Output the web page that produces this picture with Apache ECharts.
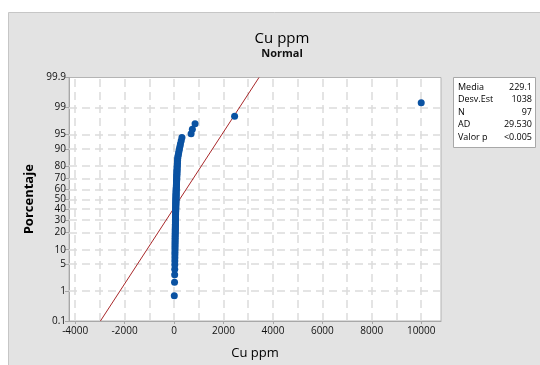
<!DOCTYPE html>
<html>
<head>
<meta charset="utf-8">
<script src="https://cdn.jsdelivr.net/npm/echarts@6/dist/echarts.min.js"></script>
<style>
  html, body { margin: 0; padding: 0; background: #fff; }
  #chart { width: 540px; height: 365px; }
</style>
</head>
<body>
<div id="chart"></div>
<script>
// Cu ppm values, sorted
var cuValues = [
  10, 20, 25, 28, 30, 32, 34, 35, 36, 38,
  39, 40, 41, 42, 43, 44, 45, 46, 47, 48,
  49, 50, 51, 52, 53, 54, 55, 56, 57, 58,
  59, 60, 61, 62, 63, 64, 65, 66, 67, 68,
  69, 70, 71, 72, 73, 74, 75, 76, 77, 78,
  79, 80, 81, 82, 83, 84, 85, 86, 88, 90,
  92, 94, 96, 98, 100, 102, 104, 106, 108, 110,
  112, 114, 116, 118, 120, 122, 124, 127, 130, 134,
  138, 142, 148, 155, 170, 185, 200, 220, 240, 260,
  290, 320, 690, 740, 850, 2450, 10000
];
var probTicks = [0.1, 1, 5, 10, 20, 30, 40, 50, 60, 70, 80, 90, 95, 99, 99.9];
var probLabels = ['0.1', '1', '5', '10', '20', '30', '40', '50', '60', '70', '80', '90', '95', '99', '99.9'];
var xTicks = [-4000, -2000, 0, 2000, 4000, 6000, 8000, 10000];
var xGrid = [-4000, -3000, -2000, -1000, 0, 1000, 2000, 3000, 4000, 5000, 6000, 7000, 8000, 9000, 10000];
var statNames = ['Media', 'Desv.Est', 'N', 'AD', 'Valor p'];
var statValues = ['229.1', '1038', '97', '29.530', '<0.005'];
var mean = 229.1;
var sd = 1038;

// inverse normal cdf (Acklam)
function normInv(p) {
  var a = [-39.69683028665376, 220.9460984245205, -275.9285104469687, 138.3577518672690, -30.66479806614716, 2.506628277459239];
  var b = [-54.47609879822406, 161.5858368580409, -155.6989798598866, 66.80131188771972, -13.28068155288572];
  var c = [-0.007784894002430293, -0.3223964580411365, -2.400758277161838, -2.549732539343734, 4.374664141464968, 2.938163982698783];
  var d = [0.007784695709041462, 0.3224671290700398, 2.445134137142996, 3.754408661907416];
  var q, r;
  if (p < 0.02425) {
    q = Math.sqrt(-2 * Math.log(p));
    return (((((c[0]*q+c[1])*q+c[2])*q+c[3])*q+c[4])*q+c[5]) / ((((d[0]*q+d[1])*q+d[2])*q+d[3])*q+1);
  }
  if (p > 1 - 0.02425) {
    q = Math.sqrt(-2 * Math.log(1 - p));
    return -(((((c[0]*q+c[1])*q+c[2])*q+c[3])*q+c[4])*q+c[5]) / ((((d[0]*q+d[1])*q+d[2])*q+d[3])*q+1);
  }
  q = p - 0.5; r = q * q;
  return (((((a[0]*r+a[1])*r+a[2])*r+a[3])*r+a[4])*r+a[5])*q / (((((b[0]*r+b[1])*r+b[2])*r+b[3])*r+b[4])*r+1);
}

var n = cuValues.length;
var points = cuValues.map(function (v, i) {
  return [v, normInv((i + 1 - 0.3) / (n + 0.4))];
});
var zTicks = probTicks.map(function (p) { return normInv(p / 100); });
var zMin = zTicks[0], zMax = zTicks[zTicks.length - 1];
var fitLine = [[mean + zMin * sd, zMin], [mean + zMax * sd, zMax]];

var gridStyle = { type: [8, 5], color: '#dcdcdc', width: 1.5 };
var gridLines = zTicks.slice(1, -1).map(function (z) { return { yAxis: z }; })
  .concat(xGrid.map(function (x) { return { xAxis: x }; }));

var graphics = [
  { type: 'rect', x: 8.5, y: 12.5, z: -10, silent: true,
    shape: { width: 540, height: 360 },
    style: { fill: '#e3e3e3', stroke: '#c6c6c6', lineWidth: 1 } },
  { type: 'rect', x: 453.5, y: 77.5, z: 10, silent: true,
    shape: { width: 82, height: 70 },
    style: { fill: '#fff', stroke: '#a8a8a8', lineWidth: 1 } }
];
statNames.forEach(function (s, i) {
  graphics.push({ type: 'text', x: 458, y: 87 + i * 12.5, z: 11, silent: true,
    style: { text: s, fontSize: 9, fontFamily: 'Open Sans', fill: '#000', textVerticalAlign: 'middle' } });
  graphics.push({ type: 'text', x: 532, y: 87 + i * 12.5, z: 11, silent: true,
    style: { text: statValues[i], fontSize: 9, fontFamily: 'Open Sans', fill: '#000',
      textAlign: 'right', textVerticalAlign: 'middle' } });
});

var chart = echarts.init(document.getElementById('chart'));
chart.setOption({
  animation: false,
  backgroundColor: '#fff',
  textStyle: { fontFamily: 'Open Sans' },
  graphic: graphics,
  title: {
    text: 'Cu ppm',
    subtext: 'Normal',
    left: 277,
    top: 26,
    textAlign: 'center',
    itemGap: 2,
    textStyle: { fontSize: 15, fontWeight: 'normal', color: '#000', fontFamily: 'Open Sans' },
    subtextStyle: { fontSize: 11, fontWeight: 'bold', color: '#111', fontFamily: 'Open Sans' }
  },
  grid: {
    left: 69, right: 99, top: 77.5, bottom: 42,
    show: true, backgroundColor: '#fff', borderColor: '#b4b4b4', borderWidth: 1
  },
  xAxis: {
    type: 'value',
    min: -4250, max: 10800,
    name: 'Cu ppm',
    nameLocation: 'middle',
    nameGap: 26,
    nameTextStyle: { fontSize: 13, color: '#000' },
    axisLine: { show: true, onZero: false, lineStyle: { color: '#a8a8a8' } },
    axisTick: { show: true, length: 3, customValues: xTicks, lineStyle: { color: '#a8a8a8' } },
    axisLabel: { customValues: xTicks, fontSize: 10, color: '#111', margin: 5,
      formatter: function (v) { return String(v); } },
    splitLine: { show: false }
  },
  yAxis: {
    type: 'value',
    min: zMin, max: zMax,
    name: 'Porcentaje',
    nameLocation: 'middle',
    nameGap: 33,
    nameTextStyle: { fontSize: 13, fontWeight: 'bold', color: '#000' },
    axisLine: { show: true, onZero: false, lineStyle: { color: '#a8a8a8' } },
    axisTick: { show: true, length: 4, customValues: zTicks, lineStyle: { color: '#a8a8a8' } },
    axisLabel: {
      customValues: zTicks, fontSize: 10, color: '#111', margin: 3,
      formatter: function (v) {
        for (var i = 0; i < zTicks.length; i++) {
          if (Math.abs(zTicks[i] - v) < 1e-6) return probLabels[i];
        }
        return '';
      }
    },
    splitLine: { show: false }
  },
  series: [
    {
      type: 'line', data: [], z: 1, silent: true,
      markLine: { silent: true, z: 1, symbol: ['none', 'none'], label: { show: false },
        lineStyle: gridStyle, emphasis: { disabled: true }, data: gridLines }
    },
    {
      type: 'line', data: fitLine, z: 2, symbol: 'none', silent: true,
      lineStyle: { color: '#a8282a', width: 1 }
    },
    {
      type: 'scatter', data: points, z: 3, symbol: 'circle', symbolSize: 7,
      itemStyle: { color: '#0a52a2', opacity: 1, borderWidth: 0 }
    }
  ]
});
</script>
</body>
</html>
